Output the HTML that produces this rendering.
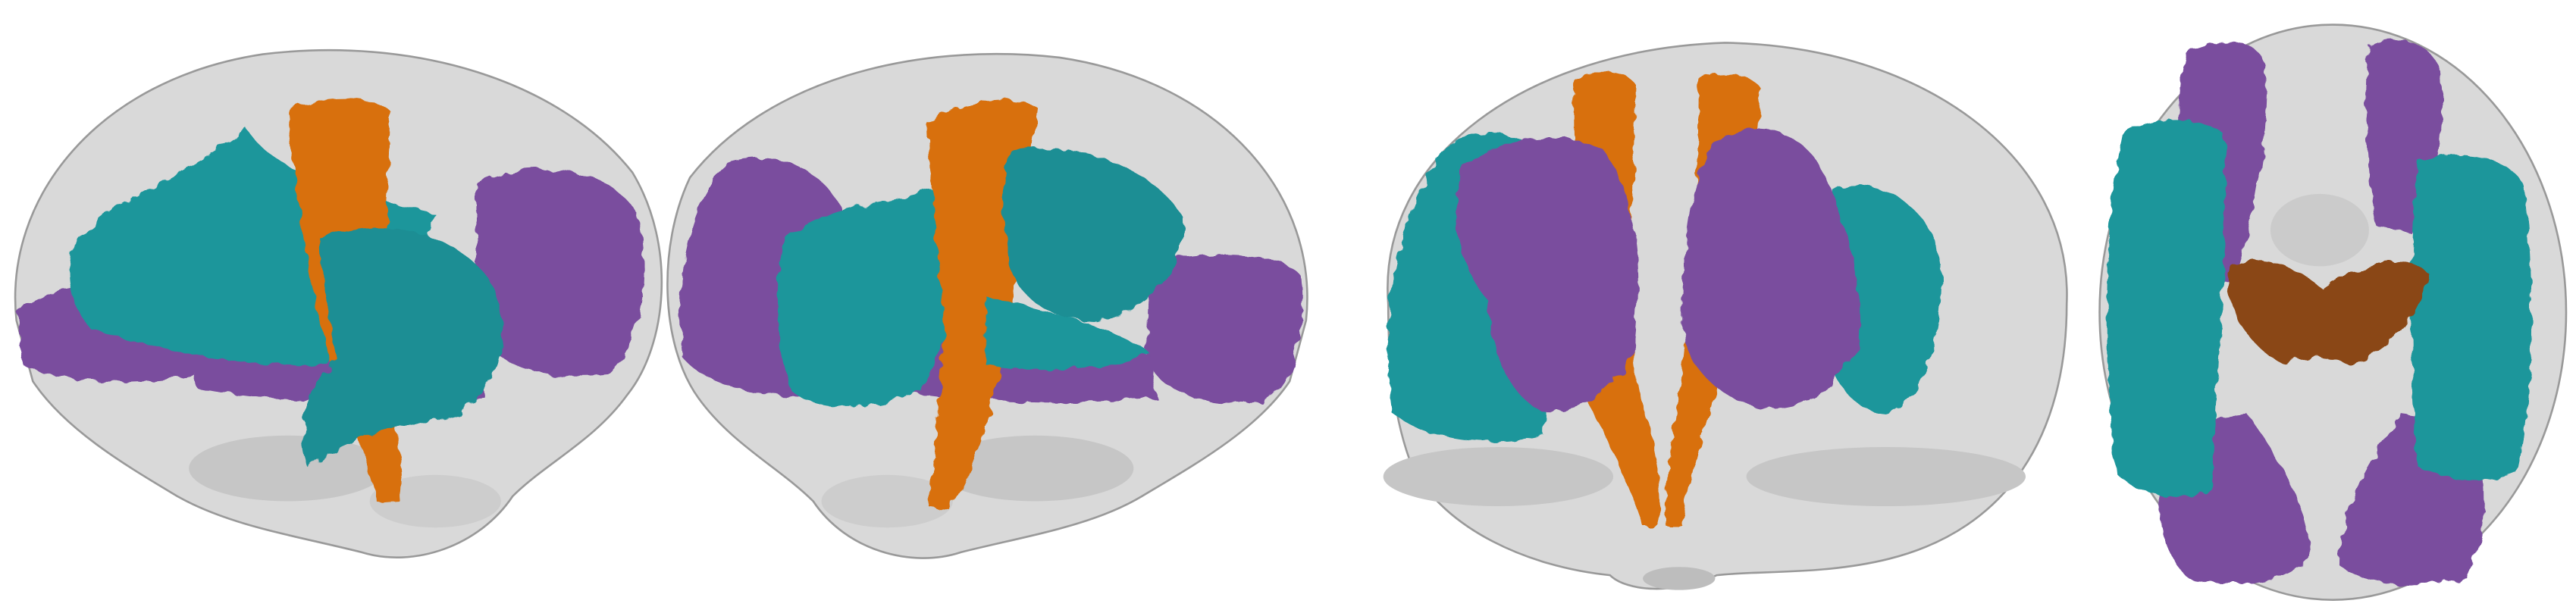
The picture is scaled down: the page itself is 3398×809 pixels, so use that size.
<!DOCTYPE html>
<html>
<head>
<meta charset="utf-8">
<style>
html,body{margin:0;padding:0;background:#fff;}
svg{display:block;}
</style>
</head>
<body>
<svg width="3398" height="809" viewBox="0 0 1568 373" preserveAspectRatio="none" xmlns="http://www.w3.org/2000/svg">
<defs>
<filter id="rough" x="-20%" y="-20%" width="140%" height="140%">
<feTurbulence type="fractalNoise" baseFrequency="0.12" numOctaves="2" result="n"/>
<feDisplacementMap in="SourceGraphic" in2="n" scale="6"/>
</filter>
</defs>

<!-- Brain 1: lateral left -->
<g>
<path d="M10,195 C2,120 60,48 160,33 C250,22 340,48 385,105 C412,150 406,210 382,240 C362,268 332,282 312,302 C292,332 252,346 220,336 C180,326 140,320 108,302 C78,284 40,262 20,232 Z" fill="#d9d9d9" stroke="#999" stroke-width="1.2"/>
<ellipse cx="175" cy="285" rx="60" ry="20" fill="#c6c6c6"/>
<ellipse cx="265" cy="305" rx="40" ry="16" fill="#cdcdcd"/>
<g filter="url(#rough)">
<path d="M10,190 C30,172 80,168 112,180 L118,228 C80,236 30,232 14,222 Z" fill="#7a4e9e"/>
<path d="M290,112 C320,96 370,100 388,130 C398,170 390,210 370,228 C330,232 300,222 290,200 Z" fill="#7a4e9e"/>
<path d="M115,215 C170,208 240,210 292,218 L295,242 C240,247 170,246 120,236 Z" fill="#7a4e9e"/>
<path d="M45,150 C65,120 110,110 150,78 C165,105 220,120 265,130 C255,170 220,200 200,222 C160,224 100,215 55,200 C42,185 40,165 45,150 Z" fill="#1c969b"/>
<path d="M175,68 C192,57 228,57 238,68 C236,130 230,180 238,240 C244,275 246,295 243,305 L230,306 C222,280 214,250 205,230 C190,190 182,130 175,68 Z" fill="#d8700f"/>
<path d="M195,145 C230,130 275,140 298,170 C315,200 305,235 278,252 C245,262 212,262 188,285 C178,262 188,238 205,218 C200,192 195,168 195,145 Z" fill="#1a8e94"/>
</g>
</g>

<!-- Brain 2: lateral right -->
<g>
<path d="M795,195 C803,120 745,50 645,35 C555,25 465,50 420,108 C400,150 402,210 425,242 C445,270 475,285 495,305 C515,335 555,346 585,336 C625,326 665,320 695,302 C725,284 765,262 785,232 Z" fill="#d9d9d9" stroke="#999" stroke-width="1.2"/>
<ellipse cx="630" cy="285" rx="60" ry="20" fill="#c6c6c6"/>
<ellipse cx="540" cy="305" rx="40" ry="16" fill="#cdcdcd"/>
<g filter="url(#rough)">
<path d="M445,98 C480,88 515,110 518,150 L512,238 C480,246 432,238 416,218 C410,170 418,122 445,98 Z" fill="#7a4e9e"/>
<path d="M700,160 C735,152 780,152 792,168 C795,200 788,236 768,245 C730,248 705,238 698,218 Z" fill="#7a4e9e"/>
<path d="M510,200 C570,200 640,208 700,216 L704,242 C630,248 560,244 512,230 Z" fill="#7a4e9e"/>
<path d="M478,145 C505,122 545,125 575,112 C590,150 580,210 560,238 C530,250 500,252 482,238 C472,210 470,172 478,145 Z" fill="#1c969b"/>
<path d="M565,75 C582,60 622,57 632,66 C626,110 620,170 608,230 C598,270 588,298 578,310 L565,308 C567,280 572,240 575,200 C572,160 566,120 565,75 Z" fill="#d8700f"/>
<path d="M615,92 C655,85 700,100 720,132 C722,165 700,188 668,196 C640,195 620,182 614,160 C610,135 610,112 615,92 Z" fill="#1a8e94"/>
<path d="M600,180 C640,190 680,200 700,215 C670,225 630,228 600,222 Z" fill="#1c969b"/>
</g>
</g>

<!-- Brain 3: coronal -->
<g>
<path d="M845,185 C838,95 930,30 1050,26 C1170,28 1262,95 1258,185 C1258,265 1222,322 1150,340 C1110,350 1070,347 1045,350 C1020,362 990,360 980,350 C930,345 880,322 860,285 C848,255 845,220 845,185 Z" fill="#d9d9d9" stroke="#999" stroke-width="1.2"/>
<ellipse cx="912" cy="290" rx="70" ry="18" fill="#c6c6c6"/>
<ellipse cx="1148" cy="290" rx="85" ry="18" fill="#c6c6c6"/>
<ellipse cx="1022" cy="352" rx="22" ry="7" fill="#bdbdbd"/>
<g filter="url(#rough)">
<path d="M885,85 C915,75 940,85 945,110 L940,265 C915,272 872,270 848,252 C840,200 845,130 885,85 Z" fill="#1c969b"/>
<path d="M1115,115 C1150,105 1182,132 1182,170 C1182,208 1172,242 1150,252 C1128,252 1114,232 1110,200 Z" fill="#1c969b"/>
<path d="M958,48 C970,42 990,42 996,52 C995,120 988,190 998,240 C1008,270 1013,300 1010,320 L1000,320 C990,290 976,262 964,240 C960,180 958,110 958,48 Z" fill="#d8700f"/>
<path d="M1034,48 C1046,42 1066,44 1072,54 C1066,120 1058,190 1044,240 C1034,270 1027,300 1024,320 L1014,320 C1014,290 1018,262 1022,240 C1030,180 1034,110 1034,48 Z" fill="#d8700f"/>
<path d="M890,100 C915,85 945,78 975,90 C998,120 1000,170 994,215 C982,240 960,252 938,250 C915,238 908,210 905,182 C888,162 882,130 890,100 Z" fill="#7a4e9e"/>
<path d="M1042,88 C1068,70 1096,78 1110,105 C1124,135 1134,172 1132,208 C1120,236 1098,250 1070,248 C1046,242 1024,222 1024,195 C1024,150 1028,115 1042,88 Z" fill="#7a4e9e"/>
</g>
</g>

<!-- Brain 4: axial -->
<g>
<ellipse cx="1420" cy="190" rx="142" ry="175" fill="#d9d9d9" stroke="#999" stroke-width="1.2"/>
<ellipse cx="1412" cy="140" rx="30" ry="22" fill="#cbcbcb"/>
<g filter="url(#rough)">
<path d="M1330,32 C1348,22 1376,22 1380,42 C1380,90 1372,135 1360,170 L1335,170 C1326,130 1322,70 1330,32 Z" fill="#7a4e9e"/>
<path d="M1442,28 C1456,20 1482,24 1486,46 C1490,90 1478,128 1468,142 L1447,138 C1440,100 1438,60 1442,28 Z" fill="#7a4e9e"/>
<path d="M1322,258 L1368,252 C1388,280 1406,310 1406,338 C1392,356 1360,358 1332,352 C1310,330 1310,290 1322,258 Z" fill="#7a4e9e"/>
<path d="M1462,252 L1504,258 C1516,290 1514,328 1502,352 C1478,358 1442,358 1424,344 C1424,310 1442,280 1462,252 Z" fill="#7a4e9e"/>
<path d="M1292,82 C1310,70 1340,70 1354,82 C1356,140 1350,220 1346,298 C1328,306 1302,302 1288,288 C1280,220 1280,140 1292,82 Z" fill="#1c969b"/>
<path d="M1472,98 C1495,90 1526,94 1536,112 C1543,170 1543,240 1532,288 C1514,296 1488,292 1472,284 C1466,220 1466,150 1472,98 Z" fill="#1c969b"/>
<path d="M1355,165 C1372,152 1395,160 1414,176 C1434,162 1458,152 1478,166 C1474,190 1458,212 1430,222 C1415,216 1405,214 1390,222 C1372,212 1356,194 1355,165 Z" fill="#8a4612"/>
</g>
</g>
</svg>
</body>
</html>
